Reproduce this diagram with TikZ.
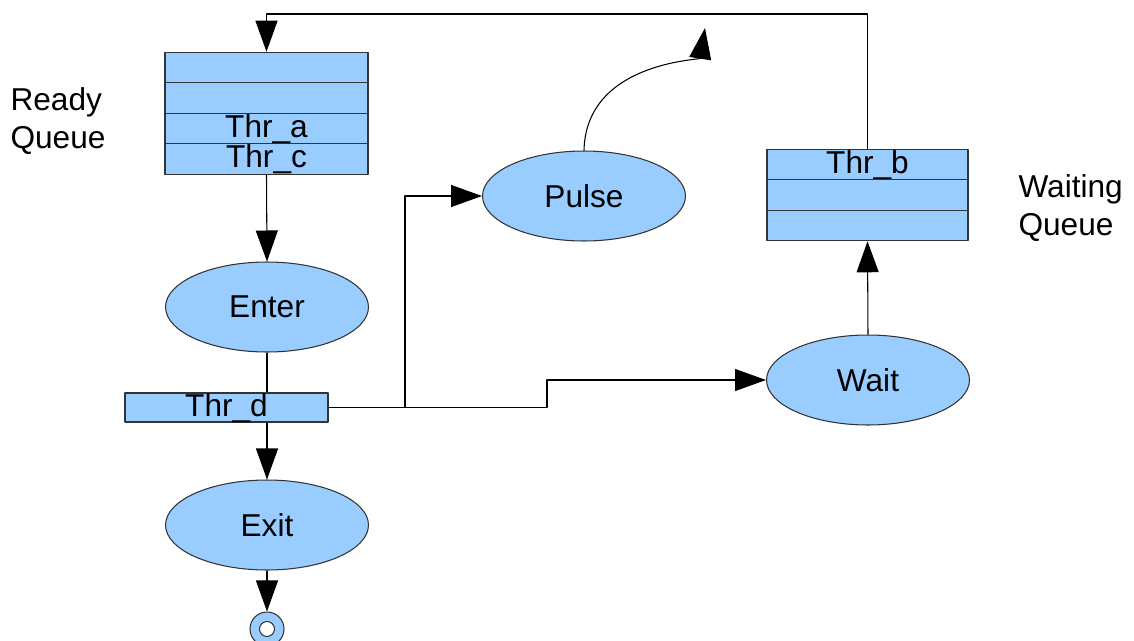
\documentclass[tikz,border=0pt]{standalone}
\usepackage{fontspec}
\setmainfont{Liberation Sans}
\usetikzlibrary{shapes.geometric,arrows.meta}
\definecolor{qblue}{HTML}{99CCFF}
\begin{document}
\begin{tikzpicture}[x=0.02cm, y=-0.02cm, line width=0.6pt, line join=round, >={Triangle[length=0.62cm,width=0.44cm]}, font=\fontsize{18}{21.5}\selectfont]
	\tikzset{qrow/.style={draw=black!80, fill=qblue, minimum width=4.06cm, minimum height=0.61cm, inner sep=0pt, text height=1.0em, text depth=0pt},
		state/.style={ellipse, draw=black!80, fill=qblue, minimum width=4.06cm, minimum height=1.8cm, inner sep=0pt},
		lbl/.style={anchor=west, align=left, inner sep=0pt}}
	\useasboundingbox (0,0) rectangle (1134,640);
	%Ready Queue
	\node[qrow] (rq1) at (266.5,67.5) {};
	\node[qrow] (rq2) at (266.5,98) {};
	\node[qrow] (rq3) at (266.5,128.5) {Thr\_a};
	\node[qrow] (rq4) at (266.5,159) {Thr\_c};
	\node[lbl] (readylbl) at (10,121) {Ready\\Queue};
	%Waiting Queue
	\node[qrow, minimum width=4.02cm] (wq1) at (867.5,164.5) {Thr\_b};
	\node[qrow, minimum width=4.02cm] (wq2) at (867.5,195) {};
	\node[qrow, minimum width=4.02cm] (wq3) at (867.5,225.5) {};
	\node[lbl] (waitlbl) at (1018,208) {Waiting\\Queue};
	%Trang thai
	\node[state] (enter) at (267,307) {Enter};
	\node[qrow, minimum height=0.58cm] (thrd) at (226.5,407.5) {Thr\_d};
	\node[state] (exit) at (267,525) {Exit};
	\node[state] (pulse) at (584,196) {Pulse};
	\node[state] (wait) at (868,380) {Wait};
	\node[circle, draw=black!80, fill=qblue, minimum size=0.68cm, inner sep=0pt] (endc) at (267,629) {};
	\draw[draw=black!80, fill=white] (endc.center) circle (0.15cm);
	%Mui ten
	\coordinate (top) at (0,14);
	\coordinate (split) at (405,407.5);
	\coordinate (jog) at (547,407.5);
	\coordinate (away) at (705,28);
	\draw[->] (wq1.north) -- (wq1.north |- top) -| (rq1.north);
	\draw[->] (rq4.south) -- (enter.north);
	\draw (enter.south) -- (enter.south |- thrd.north);
	\draw[->] (exit.north |- thrd.south) -- (exit.north);
	\draw[->] (exit.south) -- (endc.north);
	\draw[->] (thrd.east) -- (split) |- (pulse.west);
	\draw[->] (split) -- (jog) |- (wait.west);
	\draw[->] (wait.north) -- (wq3.south);
	\draw[->] (pulse.north) .. controls (586,62) and (700,60) .. (away);
\end{tikzpicture}
\end{document}
